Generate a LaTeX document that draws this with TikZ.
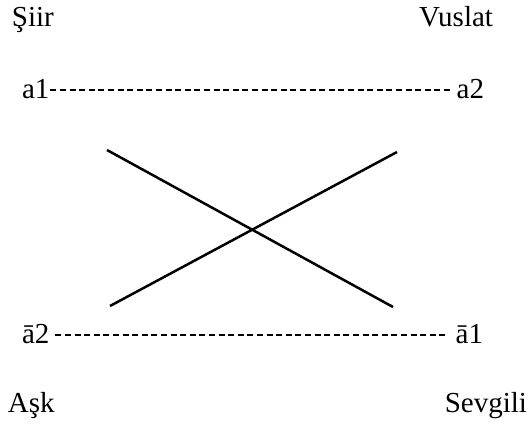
\documentclass[tikz,border=0pt]{standalone}
\usepackage{fontspec}
\setmainfont{Liberation Serif}
\usetikzlibrary{calc}
\begin{document}
\begin{tikzpicture}[x=1pt,y=1pt,
  lbl/.style={inner sep=0pt,outer sep=0pt,font=\fontsize{29}{34}\selectfont},
  dashline/.style={line width=1.4pt,dash pattern=on 6pt off 3.6pt},
  crossline/.style={line width=2.5pt}]
\useasboundingbox (0,0) rectangle (528,424);
\node[lbl,anchor=base west] (siir) at (12,397) {Şiir};
\node[lbl,anchor=base east] (vuslat) at (493,397) {Vuslat};
\node[lbl,anchor=base west] (a1) at (22,325) {a1};
\node[lbl,anchor=base east] (a2) at (484,325) {a2};
\node[lbl,anchor=base west] (ab2) at (22,81) {ā2};
\node[lbl,anchor=base east] (ab1) at (483,81) {ā1};
\node[lbl,anchor=base west] (ask) at (8,12) {Aşk};
\node[lbl,anchor=base east] (sevgili) at (527,12) {Sevgili};
\draw[dashline] ($(a1.base east)+(1,9)$) -- ($(a2.base west)+(-5,9)$);
\draw[dashline] ($(ab2.base east)+(6,8)$) -- ($(ab1.base west)+(-7,8)$);
\coordinate (p1) at (107,274);
\coordinate (p2) at (393,117);
\coordinate (p3) at (110,118);
\coordinate (p4) at (397,272);
\draw[crossline] (p1) -- (p2);
\draw[crossline] (p3) -- (p4);
\end{tikzpicture}
\end{document}
